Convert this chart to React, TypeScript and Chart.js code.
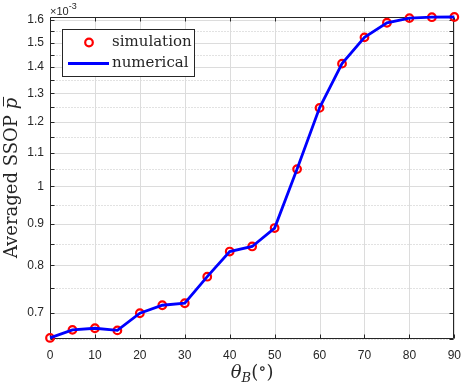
import React, { useEffect, useRef } from "react";
import { Chart, registerables } from "chart.js";

Chart.register(...registerables);

// ---- data (values in units of 1e-3) ----
const angles = [0, 5, 10, 15, 20, 25, 30, 35, 40, 45, 50, 55, 60, 65, 70, 75, 80, 85, 90];
const simulation = [0.652, 0.667, 0.670, 0.666, 0.699, 0.715, 0.719, 0.775, 0.832, 0.844, 0.889, 1.050, 1.248, 1.414, 1.523, 1.587, 1.608, 1.612, 1.613];
const numerical = [0.652, 0.667, 0.670, 0.666, 0.699, 0.715, 0.719, 0.775, 0.832, 0.844, 0.889, 1.050, 1.248, 1.414, 1.523, 1.587, 1.608, 1.612, 1.613];
const xTicks = [0, 10, 20, 30, 40, 50, 60, 70, 80, 90];
const yMajorTicks = [0.7, 0.8, 0.9, 1.0, 1.1, 1.2, 1.3, 1.4, 1.5, 1.6];
const yMajorLabels = ["0.7", "0.8", "0.9", "1", "1.1", "1.2", "1.3", "1.4", "1.5", "1.6"];
const yMinorTicks = [0.65, 0.75, 0.85, 0.95, 1.05, 1.15, 1.25, 1.35, 1.45, 1.55];
const yMin = 0.65;
const yMax = 1.613;
const legendLabels = ["simulation", "numerical"];

const AXIS_COLOR = "#262626";
const SERIF = "'DejaVu Serif', serif";
const SANS = "'Liberation Sans', Arial, sans-serif";

type Seg = { text: string; font: string; dy?: number };

function drawSegs(ctx: CanvasRenderingContext2D, segs: Seg[], cx: number, baseline: number) {
  const widths = segs.map((s) => {
    ctx.font = s.font;
    return ctx.measureText(s.text).width;
  });
  const total = widths.reduce((a, b) => a + b, 0);
  let x = cx - total / 2;
  const starts: number[] = [];
  segs.forEach((s, i) => {
    ctx.font = s.font;
    starts.push(x);
    ctx.fillText(s.text, x, baseline + (s.dy || 0));
    x += widths[i];
  });
  return { starts, widths };
}

const matlabAxes = {
  id: "matlabAxes",
  beforeDatasetsDraw(chart: any) {
    const { ctx, chartArea: a, scales } = chart;
    const x = scales.x;
    const y = scales.y;
    const L = Math.round(a.left) + 0.5;
    const R = Math.round(a.right) - 0.5;
    const T = Math.round(a.top) + 0.5;
    const B = Math.round(a.bottom) - 0.5;
    ctx.save();
    ctx.lineWidth = 1;
    // minor dotted grid (y)
    ctx.strokeStyle = "#c4c4c4";
    ctx.setLineDash([1, 2]);
    yMinorTicks.forEach((v) => {
      const py = Math.round(y.getPixelForValue(v)) + 0.5;
      ctx.beginPath();
      ctx.moveTo(L, py);
      ctx.lineTo(R, py);
      ctx.stroke();
    });
    // major grid
    ctx.setLineDash([]);
    ctx.strokeStyle = "#dcdcdc";
    xTicks.forEach((v) => {
      const px = Math.round(x.getPixelForValue(v)) + 0.5;
      ctx.beginPath();
      ctx.moveTo(px, T);
      ctx.lineTo(px, B);
      ctx.stroke();
    });
    yMajorTicks.forEach((v) => {
      const py = Math.round(y.getPixelForValue(v)) + 0.5;
      ctx.beginPath();
      ctx.moveTo(L, py);
      ctx.lineTo(R, py);
      ctx.stroke();
    });
    // box
    ctx.strokeStyle = AXIS_COLOR;
    ctx.beginPath();
    ctx.rect(L, T, R - L, B - T);
    ctx.stroke();
    // inward ticks
    const tl = 4;
    ctx.beginPath();
    xTicks.forEach((v) => {
      const px = Math.round(x.getPixelForValue(v)) + 0.5;
      ctx.moveTo(px, B);
      ctx.lineTo(px, B - tl);
      ctx.moveTo(px, T);
      ctx.lineTo(px, T + tl);
    });
    [...yMajorTicks, ...yMinorTicks].forEach((v) => {
      const py = Math.round(y.getPixelForValue(v)) + 0.5;
      ctx.moveTo(L, py);
      ctx.lineTo(L + tl, py);
      ctx.moveTo(R, py);
      ctx.lineTo(R - tl, py);
    });
    ctx.stroke();
    ctx.restore();
  },
  afterDraw(chart: any) {
    const { ctx, chartArea: a } = chart;
    ctx.save();
    ctx.fillStyle = AXIS_COLOR;
    ctx.textAlign = "left";
    ctx.textBaseline = "alphabetic";

    // exponent label
    ctx.font = `11px ${SANS}`;
    ctx.fillText("\u00d710", a.left, a.top - 2);
    const w10 = ctx.measureText("\u00d710").width;
    ctx.font = `9px ${SANS}`;
    ctx.fillText("-3", a.left + w10, a.top - 8);

    // y title
    ctx.save();
    ctx.translate(17, (a.top + a.bottom) / 2);
    ctx.rotate(-Math.PI / 2);
    const yt = drawSegs(
      ctx,
      [
        { text: "Averaged SSOP ", font: `18px ${SERIF}` },
        { text: "p", font: `italic 18px ${SERIF}` },
      ],
      0,
      0
    );
    ctx.strokeStyle = AXIS_COLOR;
    ctx.lineWidth = 1;
    ctx.beginPath();
    ctx.moveTo(yt.starts[1] + 3, -13.5);
    ctx.lineTo(yt.starts[1] + yt.widths[1] + 1, -13.5);
    ctx.stroke();
    ctx.restore();

    // x title
    drawSegs(
      ctx,
      [
        { text: "\u03b8", font: `italic 18px ${SERIF}` },
        { text: "B", font: `italic 13px ${SERIF}`, dy: 4 },
        { text: "(", font: `18px ${SERIF}` },
        { text: "\u2218", font: `17px ${SERIF}`, dy: -4 },
        { text: ")", font: `18px ${SERIF}` },
      ],
      (a.left + a.right) / 2,
      377.5
    );

    // legend
    const lx = a.left + 12;
    const ly = a.top + 12;
    const lw = 133;
    const lh = 48;
    ctx.fillStyle = "#ffffff";
    ctx.fillRect(lx, ly, lw, lh);
    ctx.strokeStyle = AXIS_COLOR;
    ctx.lineWidth = 1;
    ctx.strokeRect(lx + 0.5, ly + 0.5, lw - 1, lh - 1);

    const ds0 = chart.data.datasets[0];
    const ds1 = chart.data.datasets[1];
    const r1 = ly + 13.5;
    const r2 = ly + 34.5;
    ctx.strokeStyle = ds0.pointBorderColor;
    ctx.lineWidth = ds0.pointBorderWidth;
    ctx.beginPath();
    ctx.arc(lx + 27, r1, ds0.pointRadius, 0, Math.PI * 2);
    ctx.stroke();
    ctx.strokeStyle = ds1.borderColor;
    ctx.lineWidth = ds1.borderWidth;
    ctx.beginPath();
    ctx.moveTo(lx + 6, r2);
    ctx.lineTo(lx + 47, r2);
    ctx.stroke();

    ctx.fillStyle = AXIS_COLOR;
    ctx.font = `15px ${SERIF}`;
    ctx.textBaseline = "middle";
    ctx.fillText(legendLabels[0], lx + 50, r1);
    ctx.fillText(legendLabels[1], lx + 50, r2);
    ctx.restore();
  },
};

export default function App() {
  const ref = useRef<HTMLCanvasElement | null>(null);
  useEffect(() => {
    if (!ref.current) return;
    const chart = new Chart(ref.current, {
      type: "line",
      data: {
        datasets: [
          {
            label: legendLabels[0],
            data: angles.map((a, i) => ({ x: a, y: simulation[i] })),
            showLine: false,
            pointRadius: 3.8,
            pointBorderWidth: 2.2,
            pointBorderColor: "#ff0000",
            pointBackgroundColor: "rgba(0,0,0,0)",
            borderColor: "#ff0000",
            order: 1,
            clip: false,
          } as any,
          {
            label: legendLabels[1],
            data: angles.map((a, i) => ({ x: a, y: numerical[i] })),
            borderColor: "#0000ff",
            borderWidth: 2.8,
            pointRadius: 0,
            tension: 0,
            order: 0,
            clip: false,
          } as any,
        ],
      },
      options: {
        animation: false,
        responsive: false,
        events: [],
        layout: { padding: { left: 0, top: 17, right: 9, bottom: 0 } },
        plugins: { legend: { display: false }, tooltip: { enabled: false }, title: { display: false } },
        scales: {
          x: {
            type: "linear",
            min: 0,
            max: 90,
            bounds: "data",
            grid: { display: false, drawTicks: false },
            border: { display: false },
            afterBuildTicks: (s: any) => {
              s.ticks = xTicks.map((v) => ({ value: v }));
              s.min = 0;
              s.max = 90;
            },
            afterFit: (s: any) => {
              s.height = 48;
            },
            ticks: {
              autoSkip: false,
              maxRotation: 0,
              padding: 9,
              color: AXIS_COLOR,
              font: { family: "'Liberation Sans', Arial, sans-serif", size: 12 },
              callback: (v: any) => String(v),
            },
          },
          y: {
            type: "logarithmic",
            min: yMin,
            max: yMax,
            bounds: "data",
            grid: { display: false, drawTicks: false },
            border: { display: false },
            afterBuildTicks: (s: any) => {
              s.ticks = yMajorTicks.map((v) => ({ value: v }));
              s.min = yMin;
              s.max = yMax;
            },
            afterFit: (s: any) => {
              s.width = 50;
            },
            ticks: {
              autoSkip: false,
              padding: 6,
              color: AXIS_COLOR,
              font: { family: "'Liberation Sans', Arial, sans-serif", size: 12 },
              callback: (_v: any, i: number) => yMajorLabels[i],
            },
          },
        },
      } as any,
      plugins: [matlabAxes as any],
    });
    return () => chart.destroy();
  }, []);
  return (
    <div style={{ position: "fixed", left: 0, top: 0, width: 470, height: 387, background: "#fff" }}>
      <canvas ref={ref} width={470} height={387} style={{ display: "block" }} />
    </div>
  );
}
